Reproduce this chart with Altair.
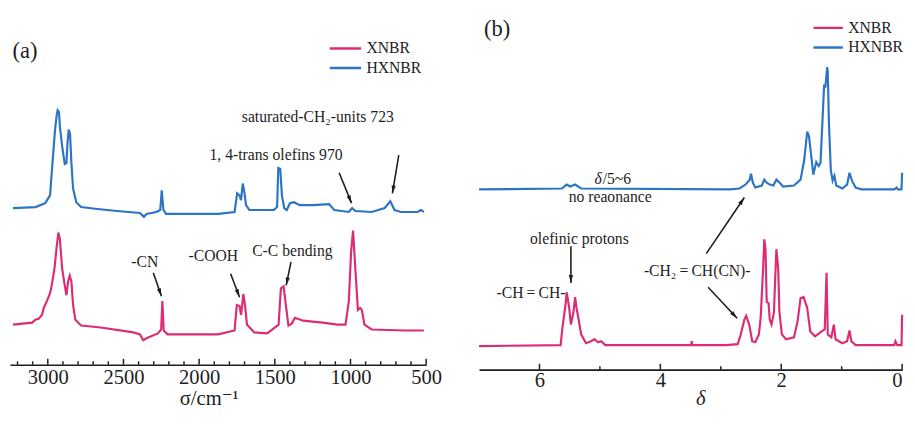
import math
import altair as alt
import pandas as pd

FONT = "Liberation Serif, DejaVu Serif, serif"
PINK = "#DC2C74"
BLUE = "#2C74C4"
INK = "#1e1e1e"

series_names = ["XNBR", "HXNBR"]

# ---------------- (a) FTIR spectra (offset, arbitrary units) ----------------
ftir_hx_wn = [3230, 3081, 3017, 2985, 2969, 2952, 2941, 2935, 2926, 2920, 2905, 2888, 2877, 2870,
              2862, 2853, 2844, 2833, 2812, 2780, 2672, 2542, 2391, 2365, 2348, 2283, 2257, 2247,
              2236, 2219, 1874, 1766, 1749, 1733, 1723, 1712, 1701, 1690, 1668, 1507, 1485, 1477,
              1464, 1453, 1438, 1421, 1400, 1374, 1335, 1248, 1141, 1108, 1011, 989, 968, 860,
              774, 737, 709, 666, 557, 535, 515]
ftir_hx_int = [1.65, 1.66, 1.70, 1.78, 2.11, 2.45, 2.60, 2.65, 2.63, 2.48, 2.28, 2.10, 2.11, 2.31,
               2.45, 2.41, 2.11, 1.85, 1.71, 1.66, 1.64, 1.62, 1.60, 1.56, 1.59, 1.61, 1.63, 1.83,
               1.63, 1.59, 1.59, 1.61, 1.80, 1.78, 1.73, 1.90, 1.81, 1.68, 1.63, 1.63, 1.66, 2.06,
               2.05, 1.78, 1.65, 1.63, 1.70, 1.71, 1.68, 1.68, 1.69, 1.63, 1.61, 1.65, 1.62, 1.61,
               1.65, 1.72, 1.63, 1.61, 1.61, 1.63, 1.61]

ftir_x_wn = [3230, 3103, 3082, 3060, 3038, 3027, 3006, 2985, 2974, 2956, 2941, 2930, 2920, 2905,
             2888, 2877, 2866, 2855, 2844, 2833, 2818, 2780, 2650, 2435, 2391, 2370, 2348, 2273,
             2251, 2243, 2234, 2208, 1874, 1766, 1751, 1733, 1723, 1708, 1697, 1684, 1636, 1550,
             1475, 1460, 1442, 1427, 1410, 1388, 1367, 1313, 1183, 1086, 1033, 1011, 996, 983,
             968, 951, 936, 925, 908, 860, 644, 536, 515]
ftir_x_int = [0.46, 0.48, 0.51, 0.52, 0.56, 0.63, 0.70, 0.78, 0.86, 1.03, 1.26, 1.40, 1.33, 1.03,
              0.86, 0.76, 0.90, 0.96, 0.90, 0.66, 0.51, 0.45, 0.43, 0.38, 0.36, 0.30, 0.32, 0.37,
              0.41, 0.70, 0.40, 0.36, 0.36, 0.40, 0.66, 0.65, 0.56, 0.77, 0.66, 0.46, 0.38, 0.37,
              0.46, 0.83, 0.85, 0.66, 0.45, 0.47, 0.53, 0.50, 0.48, 0.46, 0.46, 0.70, 1.20, 1.42,
              1.03, 0.61, 0.63, 0.61, 0.46, 0.41, 0.40, 0.40, 0.40]

ftir_major_ticks = [3000, 2500, 2000, 1500, 1000, 500]
ftir_minor_ticks = [3200, 3100, 2900, 2800, 2700, 2600, 2400, 2300, 2200, 2100, 1900, 1800,
                    1700, 1600, 1400, 1300, 1200, 1100, 900, 800, 700, 600]

ftir_labels = ["saturated-CH\u2082-units 723", "1, 4-trans olefins 970", "-CN", "-COOH", "C-C bending"]
ftir_label_x = [1216, 1492, 2359, 1906, 1384]
ftir_label_y = [2.58, 2.19, 1.10, 1.16, 1.21]

ftir_arrow_x1 = [1075, 681, 2303, 1792, 1393]
ftir_arrow_y1 = [2.01, 2.19, 0.99, 0.98, 1.10]
ftir_arrow_x2 = [993, 723, 2249, 1733, 1425]
ftir_arrow_y2 = [1.70, 1.80, 0.75, 0.74, 0.86]

# ---------------- (b) 1H NMR spectra ----------------
nmr_hx_shift = [7.00, 5.63, 5.55, 5.49, 5.41, 5.31, 2.85, 2.69, 2.59, 2.52, 2.50, 2.47, 2.43, 2.32,
                2.28, 2.24, 2.19, 2.13, 2.08, 2.03, 1.97, 1.79, 1.68, 1.62, 1.57, 1.54, 1.49, 1.47,
                1.42, 1.38, 1.35, 1.32, 1.29, 1.27, 1.24, 1.23, 1.21, 1.18, 1.15, 1.12, 1.09, 0.99,
                0.91, 0.87, 0.83, 0.77, 0.67, 0.13, 0.09, 0.07, 0.01, 0.00]
nmr_hx_int = [1.91, 1.92, 1.96, 1.94, 1.96, 1.92, 1.91, 1.92, 1.96, 2.01, 2.07, 1.98, 1.93, 1.95,
              2.01, 1.98, 1.96, 1.95, 2.01, 1.98, 1.94, 1.95, 2.01, 2.21, 2.50, 2.45, 2.18, 2.06,
              2.19, 2.15, 2.18, 2.58, 2.98, 2.95, 3.16, 3.11, 2.58, 2.11, 2.00, 2.05, 1.95, 1.92,
              1.96, 2.08, 2.00, 1.93, 1.91, 1.91, 1.93, 1.91, 1.91, 2.08]

nmr_x_shift = [7.00, 5.65, 5.62, 5.57, 5.55, 5.51, 5.48, 5.44, 5.41, 5.39, 5.36, 5.31, 5.23, 5.15,
               5.09, 5.03, 4.98, 4.91, 3.49, 3.48, 3.47, 2.91, 2.72, 2.67, 2.61, 2.58, 2.53, 2.48,
               2.43, 2.37, 2.34, 2.30, 2.28, 2.26, 2.24, 2.21, 2.19, 2.16, 2.12, 2.10, 2.08, 2.05,
               2.03, 1.99, 1.92, 1.79, 1.73, 1.68, 1.63, 1.57, 1.52, 1.44, 1.33, 1.28, 1.25, 1.23,
               1.17, 1.13, 1.10, 0.99, 0.91, 0.87, 0.84, 0.77, 0.13, 0.11, 0.08, 0.01, 0.00]
nmr_x_int = [0.31, 0.32, 0.50, 0.73, 0.86, 0.71, 0.53, 0.65, 0.81, 0.71, 0.61, 0.43, 0.34, 0.36,
             0.38, 0.35, 0.36, 0.32, 0.32, 0.36, 0.32, 0.32, 0.33, 0.43, 0.58, 0.62, 0.53, 0.36,
             0.35, 0.43, 0.60, 1.10, 1.40, 1.30, 0.76, 0.75, 0.58, 0.53, 0.66, 1.00, 1.30, 1.10,
             0.66, 0.43, 0.38, 0.40, 0.56, 0.80, 0.81, 0.70, 0.46, 0.41, 0.46, 0.48, 1.06, 0.43,
             0.40, 0.53, 0.38, 0.34, 0.36, 0.47, 0.36, 0.32, 0.32, 0.36, 0.32, 0.32, 0.63]

nmr_major_ticks = [6, 4, 2, 0]
nmr_minor_ticks = [5, 3, 1]

nmr_labels = ["olefinic protons", "-CH\u2009=\u2009CH-", "-CH\u2082\u2009=\u2009CH(CN)-", "no reaonance"]
nmr_label_x = [5.34, 6.14, 3.39, 4.83]
nmr_label_y = [1.405, 0.852, 1.078, 1.828]
nmr_delta_note = ["/5~6"]
nmr_delta_x = [4.955]
nmr_delta_y = [2.012]

nmr_arrow_x1 = [5.48, 3.24, 3.21]
nmr_arrow_y1 = [1.33, 1.255, 0.912]
nmr_arrow_x2 = [5.48, 2.61, 2.73]
nmr_arrow_y2 = [0.955, 1.828, 0.595]

# ---------------- geometry ----------------
A_W, A_H = 425, 360
A_XDOM = [500, 3250]
A_YDOM = [3.65 - A_H / 100, 3.65]
B_W, B_H = 432, 365
B_XDOM = [0, 7]
B_YDOM = [3.72 - B_H / 100, 3.72]

HEAD = "M0,0L0.45,1.7L-0.45,1.7Z"


def arrow_df(x1, y1, x2, y2, w, h, xdom, ydom):
    sx = w / (xdom[1] - xdom[0])
    sy = h / (ydom[1] - ydom[0])
    rows = []
    for a, b, c, d in zip(x1, y1, x2, y2):
        dx = -(c - a) * sx          # reversed x axis
        dy = -(d - b) * sy          # screen y grows downward
        ang = math.degrees(math.atan2(dx, -dy)) % 360
        rows.append({"x": a, "y": b, "x2": c, "y2": d, "angle": ang})
    return pd.DataFrame(rows)


def spectra_df(xs1, ys1, xs2, ys2):
    d1 = pd.DataFrame({"x": xs1, "y": ys1, "series": series_names[0]})
    d2 = pd.DataFrame({"x": xs2, "y": ys2, "series": series_names[1]})
    return pd.concat([d1, d2], ignore_index=True)


def panel(spec, xdom, ydom, w, h, major, minor, axis_title, title_italic, labels_df,
          arrows, letter, letter_xy, legend_xy, legend_sym, label_pad, title_pad,
          domain_w, title_x, flush):
    xs = alt.Scale(domain=xdom, reverse=True, nice=False, zero=False)
    ys = alt.Scale(domain=ydom, nice=False, zero=False)
    axis = alt.Axis(values=major, ticks=False, grid=False, domainColor=INK, domainWidth=domain_w,
                    labelFont=FONT, labelFontSize=21, labelColor=INK, labelPadding=label_pad,
                    labelFlush=flush, labelOverlap=False,
                    title=axis_title, titleFont=FONT, titleFontSize=21, titleColor=INK,
                    titleFontWeight="normal", titleFontStyle="italic" if title_italic else "normal",
                    titlePadding=title_pad, titleX=title_x, titleAlign="center", format="d")
    lines = alt.Chart(spec).mark_line(strokeWidth=2.2).encode(
        x=alt.X("x:Q", scale=xs, axis=axis),
        y=alt.Y("y:Q", scale=ys, axis=None),
        color=alt.Color("series:N",
                        scale=alt.Scale(domain=series_names, range=[PINK, BLUE]),
                        legend=alt.Legend(orient="none", legendX=legend_xy[0], legendY=legend_xy[1],
                                          title=None, symbolType="stroke", symbolSize=legend_sym,
                                          symbolStrokeWidth=2.5, labelFont=FONT, labelFontSize=16,
                                          labelColor=INK, labelOffset=4, rowPadding=0, padding=0,
                                          clipHeight=20)),
        detail="series:N",
    )
    tick_major = alt.Chart(pd.DataFrame({"x": major})).mark_rule(color=INK, strokeWidth=1.5).encode(
        x=alt.X("x:Q", scale=xs), y=alt.value(h), y2=alt.value(h - 6))
    tick_minor = alt.Chart(pd.DataFrame({"x": minor})).mark_rule(color=INK, strokeWidth=1.5).encode(
        x=alt.X("x:Q", scale=xs), y=alt.value(h), y2=alt.value(h - 3.5))
    texts = alt.Chart(labels_df).mark_text(font=FONT, fontSize=16, color=INK).encode(
        x=alt.X("x:Q", scale=xs), y=alt.Y("y:Q", scale=ys), text="label:N")
    shafts = alt.Chart(arrows).mark_rule(color=INK, strokeWidth=1.6).encode(
        x=alt.X("x:Q", scale=xs), y=alt.Y("y:Q", scale=ys), x2="x2:Q", y2="y2:Q")
    heads = alt.Chart(arrows).mark_point(shape=HEAD, filled=True, size=90, color=INK, opacity=1,
                                         strokeWidth=0).encode(
        x=alt.X("x2:Q", scale=xs), y=alt.Y("y2:Q", scale=ys),
        angle=alt.Angle("angle:Q", scale=None))
    letter_mark = alt.Chart(pd.DataFrame({"x": [letter_xy[0]], "y": [letter_xy[1]], "t": [letter]})
                            ).mark_text(font=FONT, fontSize=23, color=INK).encode(
        x=alt.X("x:Q", scale=xs), y=alt.Y("y:Q", scale=ys), text="t:N")
    return [lines, tick_major, tick_minor, texts, shafts, heads, letter_mark]


ftir_labels_df = pd.DataFrame({"label": ftir_labels, "x": ftir_label_x, "y": ftir_label_y})
nmr_labels_df = pd.DataFrame({"label": nmr_labels, "x": nmr_label_x, "y": nmr_label_y})

layers_a = panel(spectra_df(ftir_x_wn, ftir_x_int, ftir_hx_wn, ftir_hx_int), A_XDOM, A_YDOM, A_W, A_H,
                 ftir_major_ticks, ftir_minor_ticks, "\u03c3/cm\u207b\u00b9", False, ftir_labels_df,
                 arrow_df(ftir_arrow_x1, ftir_arrow_y1, ftir_arrow_x2, ftir_arrow_y2, A_W, A_H, A_XDOM, A_YDOM),
                 "(a)", (3150, 3.25), (325, 27), 1024, 2, 1, 1.5, 203, False)

layers_b = panel(spectra_df(nmr_x_shift, nmr_x_int, nmr_hx_shift, nmr_hx_int), B_XDOM, B_YDOM, B_W, B_H,
                 nmr_major_ticks, nmr_minor_ticks, "\u03b4", True, nmr_labels_df,
                 arrow_df(nmr_arrow_x1, nmr_arrow_y1, nmr_arrow_x2, nmr_arrow_y2, B_W, B_H, B_XDOM, B_YDOM),
                 "(b)", (6.70, 3.545), (340, 6), 900, 0, -2.5, 2, 226, 2)

b_xs = alt.Scale(domain=B_XDOM, reverse=True, nice=False, zero=False)
b_ys = alt.Scale(domain=B_YDOM, nice=False, zero=False)
delta_df = pd.DataFrame({"x": nmr_delta_x, "y": nmr_delta_y, "t": nmr_delta_note})
delta_sym = alt.Chart(delta_df).mark_text(font=FONT, fontSize=16, color=INK, fontStyle="italic",
                                          align="right", dx=-1).encode(
    x=alt.X("x:Q", scale=b_xs), y=alt.Y("y:Q", scale=b_ys), text=alt.value("\u03b4"))
delta_rest = alt.Chart(delta_df).mark_text(font=FONT, fontSize=16, color=INK, align="left").encode(
    x=alt.X("x:Q", scale=b_xs), y=alt.Y("y:Q", scale=b_ys), text="t:N")

chart_a = alt.layer(*layers_a).properties(width=A_W, height=A_H)
chart_b = alt.layer(*layers_b, delta_sym, delta_rest).properties(width=B_W, height=B_H)

chart = alt.hconcat(chart_a, chart_b, spacing=33).resolve_scale(
    color="independent", x="independent", y="independent"
).resolve_legend(color="independent").properties(padding=0).configure_view(stroke=None)

chart.save("out.html", embed_options={"renderer": "svg", "actions": False})
